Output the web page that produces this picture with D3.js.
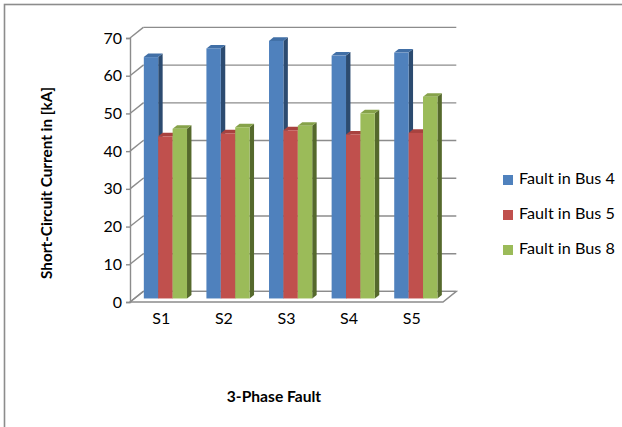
<!DOCTYPE html>
<html>
<head>
<meta charset="utf-8">
<script src="https://cdn.jsdelivr.net/npm/d3@7"></script>
<style>
  html, body { margin: 0; padding: 0; background: #fff; }
  svg { display: block; }
  text { font-family: Lato, "Open Sans", sans-serif; fill: #000; }
</style>
</head>
<body>
<svg id="chart" width="622" height="427"></svg>
<script>
// Short-circuit current per source scenario, for faults at three buses
const categories = ["S1", "S2", "S3", "S4", "S5"];
const seriesNames = ["Fault in Bus 4", "Fault in Bus 5", "Fault in Bus 8"];
const bus4 = [64.0, 66.3, 68.3, 64.4, 65.2];
const bus5 = [43.0, 43.8, 44.6, 43.5, 43.9];
const bus8 = [45.0, 45.4, 45.8, 49.1, 53.5];
const yTicks = [0, 10, 20, 30, 40, 50, 60, 70];

const seriesValues = [bus4, bus5, bus8];
const colors = {
  front: ["#4f81bd", "#c0504d", "#9bbb59"],
  side:  ["#2c4b70", "#8a3533", "#55692c"],
  top:   ["#416fa6", "#a8423f", "#86a24a"]
};

const svg = d3.select("#chart");

// Chart frame
svg.append("rect")
  .attr("x", 4.5).attr("y", 4.5)
  .attr("width", 700).attr("height", 500)
  .attr("fill", "none").attr("stroke", "#8c8c8c").attr("stroke-width", 1.6);

// Front plane scales; depth is added as an oblique offset
const left = 130, right = 443;
const x0 = d3.scaleBand().domain(categories).range([left, right]).padding(0);
const x1 = d3.scaleBand().domain(seriesNames).range([x0.bandwidth() * 0.15, x0.bandwidth() * 0.84]).padding(0);
const y = d3.scaleLinear().domain([0, 70]).range([302, 38]);
const DX = 13.3, DY = -10.6;          // full depth of the floor / walls
const zFront = 1 / 3, zBack = 2 / 3;  // bars occupy the middle of the depth

const gridColor = "#8c8c8c";
const grid = svg.append("g").attr("stroke", gridColor).attr("stroke-width", 1.4).attr("fill", "none");

// Back wall gridlines and side wall diagonals
yTicks.forEach(t => {
  const yy = y(t);
  grid.append("line")
    .attr("x1", left + DX).attr("y1", yy + DY)
    .attr("x2", right + DX).attr("y2", yy + DY);
  grid.append("line")
    .attr("x1", left).attr("y1", yy)
    .attr("x2", left + DX).attr("y2", yy + DY);
});

// Floor outline
grid.append("path")
  .attr("d", `M${left},${y(0)}L${right},${y(0)}L${right + DX},${y(0) + DY}L${left + DX},${y(0) + DY}Z`);

// Value axis with small outward ticks
const axis = svg.append("g")
  .attr("transform", `translate(${left},0)`)
  .call(d3.axisLeft(y).tickValues(yTicks).tickSize(4).tickPadding(4).tickFormat(d3.format("d")));
axis.select(".domain").attr("stroke", gridColor).attr("stroke-width", 1.4);
axis.selectAll(".tick line").attr("stroke", gridColor).attr("stroke-width", 1.4);
axis.selectAll(".tick text")
  .style("font-family", "Lato, 'Open Sans', sans-serif")
  .style("font-size", "16px")
  .attr("fill", "#000");

// 3D columns, drawn left to right so nearer faces overlap correctly
const fdx = DX * zFront, fdy = DY * zFront;
const bdx = DX * (zBack - zFront), bdy = DY * (zBack - zFront);
const bars = svg.append("g");
categories.forEach((c, ci) => {
  seriesNames.forEach((s, si) => {
    const v = seriesValues[si][ci];
    const xl = x0(c) + x1(s) + fdx;
    const xr = xl + x1.bandwidth();
    const yb = y(0) + fdy;
    const yt = y(v) + fdy;
    const g = bars.append("g");
    g.append("path")
      .attr("d", `M${xr},${yb}L${xr + bdx},${yb + bdy}L${xr + bdx},${yt + bdy}L${xr},${yt}Z`)
      .attr("fill", colors.side[si]);
    g.append("path")
      .attr("d", `M${xl},${yt}L${xr},${yt}L${xr + bdx},${yt + bdy}L${xl + bdx},${yt + bdy}Z`)
      .attr("fill", colors.top[si]);
    g.append("rect")
      .attr("x", xl).attr("y", yt)
      .attr("width", x1.bandwidth()).attr("height", yb - yt)
      .attr("fill", colors.front[si]);
  });
});

// Category labels
svg.append("g").selectAll("text")
  .data(categories)
  .join("text")
  .attr("x", d => x0(d) + x0.bandwidth() / 2)
  .attr("y", 320)
  .attr("text-anchor", "middle")
  .attr("dominant-baseline", "middle")
  .style("font-size", "16px")
  .text(d => d);

// Axis titles
svg.append("text")
  .attr("transform", `translate(48,183) rotate(-90)`)
  .attr("text-anchor", "middle")
  .attr("dominant-baseline", "middle")
  .style("font-size", "15.3px").style("font-weight", "bold")
  .text("Short-Circuit Current in [kA]");

svg.append("text")
  .attr("x", 274).attr("y", 398)
  .attr("text-anchor", "middle")
  .attr("dominant-baseline", "middle")
  .style("font-size", "15.6px").style("font-weight", "bold")
  .text("3-Phase Fault");

// Legend
const legend = svg.append("g").selectAll("g")
  .data(seriesNames)
  .join("g")
  .attr("transform", (d, i) => `translate(503,${180 + i * 35})`);
legend.append("rect")
  .attr("x", 0).attr("y", -5).attr("width", 10).attr("height", 10)
  .attr("fill", (d, i) => colors.front[i]);
legend.append("text")
  .attr("x", 16).attr("y", 0)
  .attr("dominant-baseline", "middle")
  .style("font-size", "16.2px")
  .text(d => d);
</script>
</body>
</html>
